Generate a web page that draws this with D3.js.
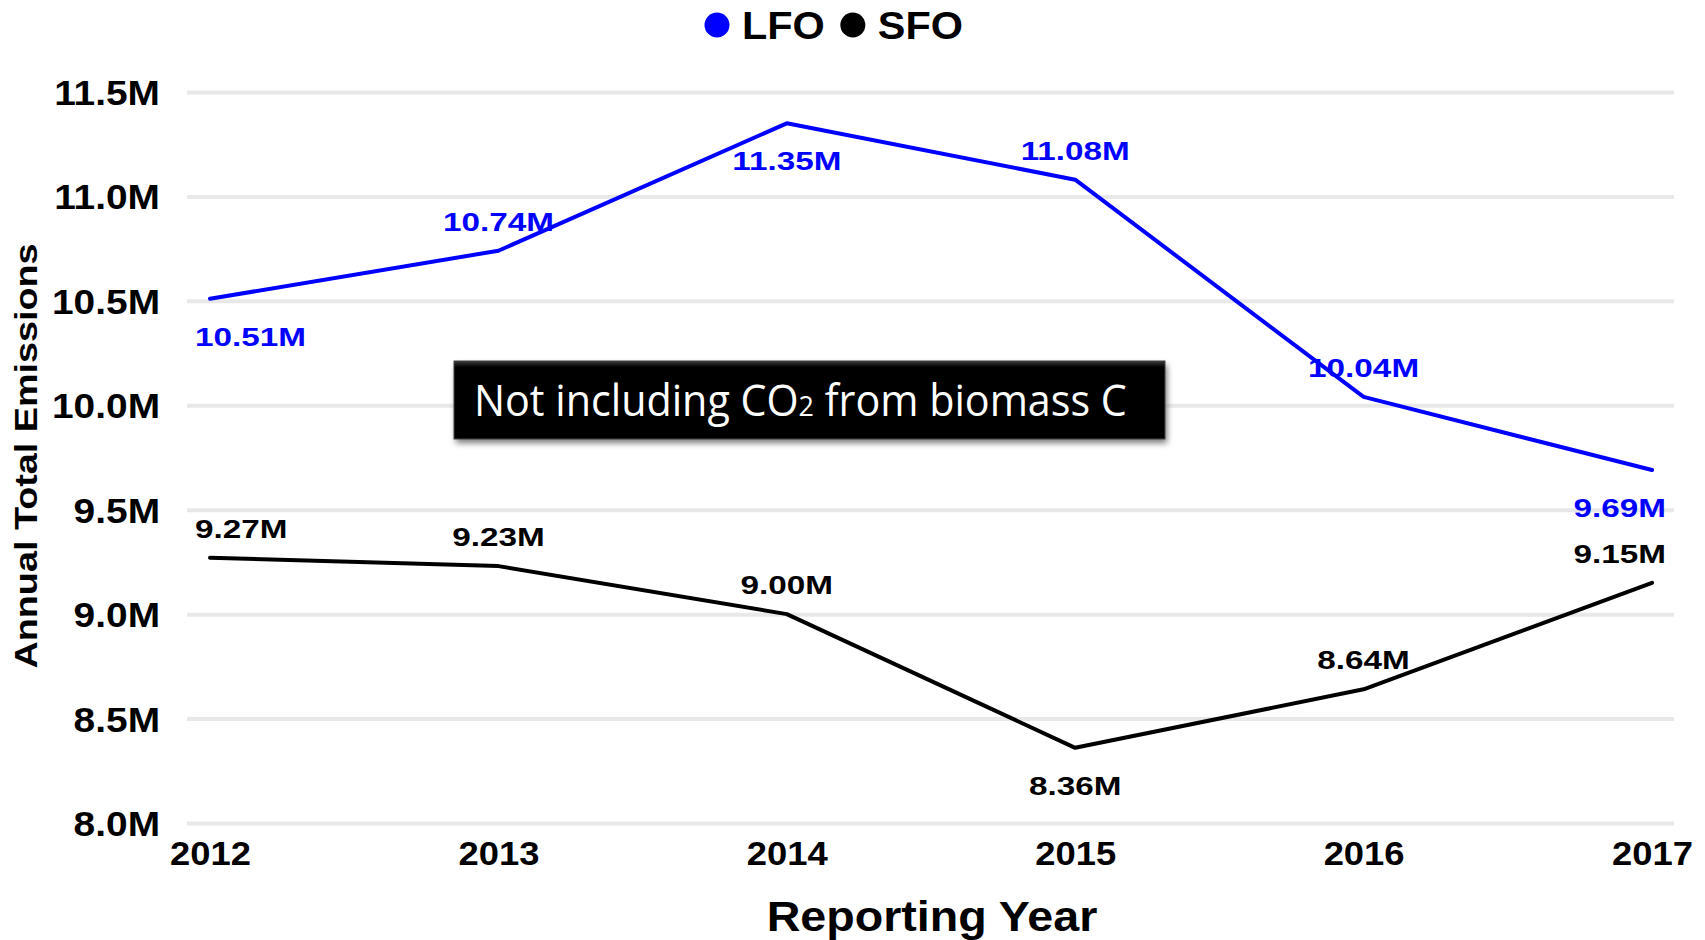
<!DOCTYPE html>
<html>
<head>
<meta charset="utf-8">
<script src="https://cdn.jsdelivr.net/npm/d3@7"></script>
<style>
  body { margin: 0; background: #fff; }
  text { font-family: "Liberation Sans", Arial, sans-serif; font-weight: bold; }
</style>
</head>
<body>
<div id="vis-container"></div>
<script>
// data
years = ["2012", "2013", "2014", "2015", "2016", "2017"]
lfo = [10.51e6, 10.74e6, 11.35e6, 11.08e6, 10.04e6, 9.69e6]
sfo = [9.27e6, 9.23e6, 9.00e6, 8.36e6, 8.64e6, 9.15e6]
yTicks = [8.0e6, 8.5e6, 9.0e6, 9.5e6, 10.0e6, 10.5e6, 11.0e6, 11.5e6]
seriesNames = ["LFO", "SFO"]
seriesColors = ["#0000ff", "#000000"]
// where each data label sits relative to its point
lfoLabelSide = ["below", "above", "below", "above", "above", "below"]
sfoLabelSide = ["above", "above", "above", "below", "above", "above"]
note = ["Not including CO", "2", " from biomass C"]

chart = {
  "width": 1705, "height": 940,
  "plot": { "left": 187, "right": 1674, "top": 92, "bottom": 823 },
  "pointInset": 23,
  "scale": {
    "x": d3.scalePoint(),
    "y": d3.scaleLinear()
  }
}

function fmt(v){
  return (v / 1e6).toFixed(2) + "M"
}

function stretched(sel, sx){
  // text in the picture is wider than plain Arial, widen it horizontally
  sel.attr("transform", function(){
    let t = d3.select(this)
    let x = +t.attr("x") || 0, y = +t.attr("y") || 0
    t.attr("x", 0).attr("y", 0)
    return "translate(" + x + "," + y + ") scale(" + sx + ",1)"
  })
}

function drawChart(){
  let p = chart.plot
  chart.scale.x.domain(years).range([p.left + chart.pointInset, p.right - 22])
  chart.scale.y.domain([8e6, 11.5e6]).range([p.bottom, p.top])
  let x = chart.scale.x, y = chart.scale.y

  svg = d3.select("#vis-container").append("svg")
    .attr("width", chart.width).attr("height", chart.height)

  // gridlines + y labels
  let yAxis = svg.append("g").attr("transform", "translate(" + p.left + ",0)")
    .call(d3.axisLeft(y).tickValues(yTicks).tickSize(-(p.right - p.left)).tickPadding(25)
      .tickFormat(d => (d / 1e6).toFixed(1) + "M"))
  yAxis.select(".domain").remove()
  yAxis.selectAll(".tick line").attr("stroke", "#e8e8e8").attr("stroke-width", 4)
  yAxis.selectAll(".tick text")
    .attr("fill", "#000").style("font-size", "36px").attr("dy", null)
    .attr("dominant-baseline", "central")
    .attr("transform", "scale(1.08,1)")

  // x labels
  let xAxis = svg.append("g").attr("transform", "translate(0," + p.bottom + ")")
    .call(d3.axisBottom(x).tickSize(0).tickPadding(0))
  xAxis.select(".domain").remove()
  xAxis.selectAll(".tick text")
    .attr("fill", "#000").style("font-size", "34px").attr("dy", null).attr("y", 42)
    .attr("transform", "scale(1.07,1)")

  // annotation box
  let defs = svg.append("defs")
  let blur = defs.append("filter").attr("id", "shadow").attr("x", "-5%").attr("y", "-20%").attr("width", "110%").attr("height", "150%")
  blur.append("feGaussianBlur").attr("stdDeviation", 3)
  let grad = defs.append("linearGradient").attr("id", "boxfill").attr("x1", 0).attr("y1", 0).attr("x2", 0).attr("y2", 1)
  grad.append("stop").attr("offset", "0%").attr("stop-color", "#3a3a3a")
  grad.append("stop").attr("offset", "8%").attr("stop-color", "#000")
  grad.append("stop").attr("offset", "100%").attr("stop-color", "#000")

  let box = svg.append("g").attr("transform", "translate(454,361)")
  box.append("rect").attr("x", 2).attr("y", 4).attr("width", 711).attr("height", 78)
    .attr("fill", "#777").attr("filter", "url(#shadow)")
  box.append("rect").attr("width", 711).attr("height", 78).attr("fill", "url(#boxfill)")
    .attr("stroke", "#444").attr("stroke-width", 1)
  let noteText = box.append("text")
    .attr("fill", "#fff").style("font-family", "'Open Sans', 'Noto Sans', sans-serif")
    .style("font-weight", "normal").style("font-size", "43px")
  noteText.selectAll("tspan").data(note).enter().append("tspan")
    .text(d => d).style("font-size", (d, i) => i == 1 ? "28px" : null)
  // fit the sentence to the width it has in the picture
  let noteScale = 653 / noteText.node().getComputedTextLength()
  noteText.attr("transform", "translate(20,55) scale(" + noteScale + ",1)")

  // lines
  let line = d3.line().x((d, i) => x(years[i])).y(d => y(d))
  ;[lfo, sfo].forEach(function(vals, k){
    svg.append("path").datum(vals).attr("d", line)
      .attr("fill", "none").attr("stroke", seriesColors[k]).attr("stroke-width", 4)
      .attr("stroke-linejoin", "round").attr("stroke-linecap", "round")
  })

  // data labels
  let labelScale = 1.28
  ;[[lfo, lfoLabelSide], [sfo, sfoLabelSide]].forEach(function(s, k){
    let vals = s[0], sides = s[1]
    let g = svg.append("g")
    vals.forEach(function(v, i){
      let t = g.append("text").text(fmt(v)).attr("fill", seriesColors[k])
        .style("font-size", "26px").attr("text-anchor", "middle")
      let half = t.node().getComputedTextLength() * labelScale / 2
      let cx = Math.max(p.left + 8 + half, Math.min(p.right - 8 - half, x(years[i])))
      let cy = sides[i] == "above" ? y(v) - 20 : y(v) + 47
      t.attr("transform", "translate(" + cx + "," + cy + ") scale(" + labelScale + ",1)")
    })
  })

  // legend
  let legend = svg.append("g")
  let lx = 705
  seriesNames.forEach(function(name, k){
    legend.append("circle").attr("cx", lx + 12).attr("cy", 25).attr("r", 12.5).attr("fill", seriesColors[k])
    let t = legend.append("text").text(name).attr("x", lx + 37).attr("y", 39)
      .style("font-size", "38px").attr("fill", "#000")
    let w = t.node().getComputedTextLength() * 1.09
    t.call(stretched, 1.09)
    lx = lx + 37 + w + 16
  })

  // axis titles
  svg.append("text").text("Reporting Year").attr("x", 932).attr("y", 931)
    .attr("text-anchor", "middle").style("font-size", "42px").attr("fill", "#000")
    .call(stretched, 1.11)
  svg.append("text").text("Annual Total Emissions")
    .attr("text-anchor", "middle").style("font-size", "32px").attr("fill", "#000")
    .attr("transform", "translate(37,456) rotate(-90) scale(1.18,1)")
}

drawChart()
</script>
</body>
</html>
